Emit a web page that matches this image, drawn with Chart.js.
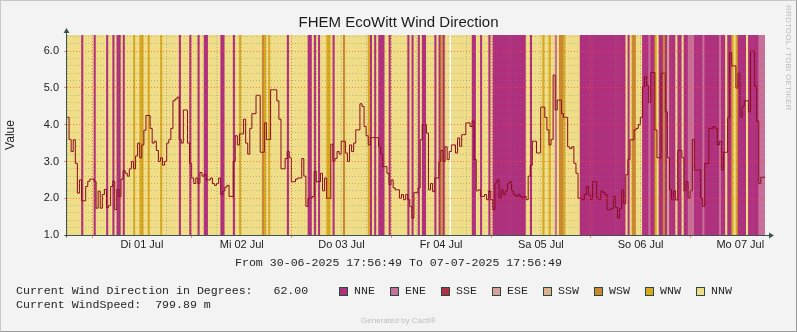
<!DOCTYPE html>
<html>
<head>
<meta charset="utf-8">
<title>FHEM EcoWitt Wind Direction</title>
<script src="https://cdn.jsdelivr.net/npm/chart.js@4.4.1/dist/chart.umd.min.js"></script>
<style>
  html, body { margin: 0; padding: 0; background: #f3f3f3; }
  #stage { position: relative; width: 797px; height: 332px; overflow: hidden; }
  #windChart { position: absolute; left: 0; top: 0; }
  #frame {
    position: absolute; left: 0; top: 0; width: 797px; height: 332px; box-sizing: border-box;
    border: 1px solid #c8c8c8; border-right-color: #9a9a9a; border-bottom-color: #9a9a9a;
    pointer-events: none;
  }
  .mono { position: absolute; font-family: "Liberation Mono", "DejaVu Sans Mono", monospace; font-size: 11.6px;
          line-height: 14px; color: #262626; white-space: pre; }
  .swatch { position: absolute; width: 7px; height: 7px; border: 1px solid #264a3c; }
  #stamp { position: absolute; right: 4px; top: 5px; writing-mode: vertical-rl; font-family: "Liberation Sans", sans-serif;
           font-size: 8px; letter-spacing: 0.2px; color: #bdbdbd; }
  #cacti { position: absolute; left: 0; width: 797px; top: 316px; text-align: center; font-family: "Liberation Sans", sans-serif;
           font-size: 8px; color: #bdbdbd; }
</style>
</head>
<body>
<div id="stage">
  <canvas id="windChart" width="797" height="332"></canvas>
  <div id="footer"></div>
  <div id="stamp">RRDTOOL / TOBI OETIKER</div>
  <div id="cacti">Generated by Cacti®</div>
  <div id="frame"></div>
</div>
<script>
// direction classes and their area colours
const dirNames = ["NNE", "ENE", "SSE", "ESE", "SSW", "WSW", "WNW", "NNW"];
const dirColors = ["#b0307e", "#c8709a", "#b03048", "#d8a098", "#ddb08e", "#cc8830", "#d8a820", "#efdd88"];

const dayLabels = ["Di 01 Jul", "Mi 02 Jul", "Do 03 Jul", "Fr 04 Jul", "Sa 05 Jul", "So 06 Jul", "Mo 07 Jul"];

// 30 minute samples from 30-06-2025 17:56:49, index into dirNames (null = no data)
const windDir = [
  7,7,7,7,7,7,7,0,7,7,7,7,7,0,7,7,7,7,7,0,7,7,0,7,
  0,0,7,0,7,7,7,7,6,7,7,6,6,7,7,6,7,7,7,7,7,6,7,7,
  7,7,7,7,7,7,0,7,7,7,7,0,7,7,7,0,7,7,0,0,7,7,7,7,
  7,7,0,0,7,7,7,7,0,7,7,6,7,7,7,7,7,7,7,7,7,7,5,6,
  7,6,7,7,7,7,7,7,7,7,0,7,7,7,7,7,7,7,7,7,0,0,7,0,
  7,0,7,7,7,6,6,7,0,7,7,7,7,5,7,7,7,7,7,7,7,7,7,7,
  7,6,0,7,0,7,0,0,0,7,7,0,7,7,7,7,7,7,7,7,0,7,0,7,
  7,0,7,0,0,7,7,7,7,0,7,0,6,0,7,7,null,7,7,7,7,7,7,7,
  7,7,7,0,0,7,7,0,7,7,7,0,7,0,0,0,0,0,0,0,0,0,0,0,
  0,0,0,0,0,7,7,0,7,7,7,7,7,6,7,7,6,7,7,1,7,5,5,6,
  7,7,7,7,7,7,7,0,0,0,0,0,0,0,0,0,0,0,0,0,0,0,0,0,
  0,0,0,0,0,7,0,7,5,5,7,7,7,0,0,0,1,0,0,6,7,0,0,5,
  0,3,0,0,0,7,0,0,7,0,0,1,1,1,0,0,0,0,1,0,0,0,0,0,
  0,0,1,0,0,7,0,0,6,7,6,0,0,0,0,7,0,0,0,0,0,1,1,1
];

// wind speed, same 30 minute samples
const windSpeed = [
  4.2, 4.2, 3.6, 3.27, 3.59, 2.95, 2.14, 2.5, 1.93, 1.93, 2.32, 2.46, 2.52, 2.52, 2.46, 1.73, 2.19, 1.73, 2.1, 2.24, 1.75, 1.8, 2.32, 2.46,
  1.69, 2.24, 2.05, 2.52, 2.75, 2.68, 2.6, 2.8, 3.0, 2.8, 3.15, 3.5, 3.1, 3.45, 3.85, 4.25, 4.25, 3.9, 3.5, 3.55, 3.3, 3.0, 3.1, 2.9,
  3.0, 3.5, 3.6, 3.9, 4.65, 4.7, 4.75, 3.6, 3.5, 4.4, 4.4, 3.5, 2.95, 2.55, 2.4, 2.55, 2.4, 2.7, 2.6, 2.65, 2.5, 2.5, 2.55, 2.4,
  2.35, 2.4, 2.55, 2.1, 2.2, 2.3, 2.35, 2.05, 2.05, 3.0, 3.7, 3.45, 3.75, 3.75, 4.15, 3.5, 3.2, 3.9, 4.3, 4.3, 4.8, 4.8, 3.25, 3.25,
  4.05, 3.6, 3.6, 4.95, 4.95, 4.95, 4.65, 4.15, 2.8, 2.8, 3.08, 3.27, 3.1, 2.45, 2.45, 2.52, 2.55, 2.55, 3.08, 2.6, 1.78, 2.0, 2.0, 2.05,
  2.73, 2.45, 2.45, 2.68, 2.2, 2.55, 2.0, 2.0, 3.47, 3.0, 3.08, 3.27, 3.2, 3.55, 3.55, 3.23, 3.0, 3.45, 3.27, 3.5, 3.86, 3.86, 4.57, 4.5,
  3.95, 3.7, 3.45, 3.65, 3.65, 3.65, 3.65, 3.4, 3.2, 2.86, 2.86, 2.68, 2.37, 2.5, 2.28, 2.23, 2.23, 2.0, 2.1, 1.96, 2.1, 1.96, 1.78, 1.46,
  2.15, 2.15, 2.28, 3.59, 4.0, 4.0, 3.77, 2.23, 2.4, 2.18, 2.55, 2.55, 3.0, 3.3, 3.0, 3.4, 3.05, 3.27, 3.45, 3.45, 3.23, 3.64, 3.41, 3.73,
  3.73, 4.05, 4.05, 3.95, 4.1, 3.05, 2.2, 2.23, 2.05, 2.05, 2.1, 1.96, 2.2, 1.96, 1.69, 2.4, 2.5, 2.0, 2.23, 2.1, 2.2, 2.4, 2.45, 2.2,
  2.1, 2.05, 2.1, 2.05, 2.0, 2.05, 1.96, 2.6, 2.9, 3.55, 3.55, 3.23, 3.23, 4.48, 4.48, 4.2, 3.86, 3.45, 3.6, 5.35, 4.4, 4.67, 4.67, 4.3,
  4.2, 4.2, 3.4, 3.35, 3.4, 2.95, 2.68, 2.0, 2.0, 1.96, 2.1, 2.32, 2.1, 1.96, 2.45, 2.45, 2.0, 1.96, 2.2, 2.15, 2.1, 1.69, 1.69, 1.72,
  2.05, 1.75, 1.46, 1.72, 2.23, 1.85, 2.64, 3.05, 3.59, 3.59, 3.86, 3.9, 4.0, 4.2, 5.03, 5.3, 5.06, 4.6, 5.42, 5.42, 3.86, 3.1, 3.1, 5.4,
  5.4, 4.35, 3.1, 2.23, 1.96, 2.2, 1.95, 3.3, 3.3, 3.1, 2.2, 2.45, 2.0, 2.2, 3.6, 2.77, 2.77, 2.77, 2.0, 1.78, 2.95, 2.95, 3.9, 3.9,
  3.95, 3.9, 3.45, 3.55, 2.77, 3.25, 3.25, 4.2, 5.96, 5.6, 5.6, 5.0, 5.4, 4.2, 4.5, 4.65, 4.65, 4.35, 6.0, 6.0, 5.05, 4.1, 2.4, 2.57
];

const STEP_H = 0.5;          // hours per sample
const SPAN_H = 168;          // one week
const FIRST_MIDNIGHT = 6.053; // hours from start to 01 Jul 00:00
const Y_MIN = 1.0, Y_MAX = 6.44;

const MAJOR = "rgba(235, 80, 60, 0.65)";
const MINOR = "rgba(120, 120, 120, 0.4)";
const AXIS = "#3b5552";

// x grid every 6 hours, aligned on local midnight
const xGrid = [];
for (let h = FIRST_MIDNIGHT - 6; h < SPAN_H; h += 6) xGrid.push(h);
const sixHourIndex = v => Math.round((v - FIRST_MIDNIGHT) / 6);

const yGrid = [];
for (let k = 0; Y_MIN + k * 0.2 <= Y_MAX; k++) yGrid.push(+(Y_MIN + k * 0.2).toFixed(1));
const isWhole = v => Math.abs(v - Math.round(v)) < 1e-6;

const bandData = windDir.map((d, i) => ({ x: (i + 0.5) * STEP_H, y: d === null ? null : [Y_MIN, Y_MAX] }));
const speedData = windSpeed.map((v, i) => ({ x: i * STEP_H, y: v }));
speedData.push({ x: SPAN_H, y: windSpeed[windSpeed.length - 1] });

// white plot background, plus the arrowed axes on top
const rrdFrame = {
  id: "rrdFrame",
  beforeDraw(chart) {
    const { ctx, chartArea: a } = chart;
    ctx.save();
    ctx.fillStyle = "#ffffff";
    ctx.fillRect(a.left, a.top, a.right - a.left, a.bottom - a.top);
    ctx.restore();
  },
  afterDraw(chart) {
    const { ctx, chartArea: a } = chart;
    const x0 = Math.round(a.left) - 0.5, y0 = Math.round(a.bottom) + 0.5;
    ctx.save();
    ctx.strokeStyle = AXIS;
    ctx.fillStyle = AXIS;
    ctx.lineWidth = 1;
    ctx.beginPath();
    ctx.moveTo(x0, y0 + 2); ctx.lineTo(x0, a.top - 3);
    ctx.moveTo(x0 - 2, y0); ctx.lineTo(a.right + 6, y0);
    ctx.stroke();
    ctx.beginPath();
    ctx.moveTo(x0, a.top - 7); ctx.lineTo(x0 - 3, a.top - 2); ctx.lineTo(x0 + 3, a.top - 2); ctx.closePath();
    ctx.moveTo(a.right + 9, y0); ctx.lineTo(a.right + 4, y0 - 3); ctx.lineTo(a.right + 4, y0 + 3); ctx.closePath();
    ctx.fill();
    ctx.restore();
  }
};

new Chart(document.getElementById("windChart").getContext("2d"), {
  type: "bar",
  data: {
    datasets: [
      {
        type: "line",
        label: "WindSpeed",
        data: speedData,
        stepped: "after",
        borderColor: "#8c0a1e",
        borderWidth: 1,
        pointRadius: 0,
        fill: false,
        order: 0
      },
      {
        label: "Wind Direction",
        data: bandData,
        backgroundColor: ctx => dirColors[windDir[ctx.dataIndex]] || "rgba(0,0,0,0)",
        borderWidth: 0,
        barPercentage: 1,
        categoryPercentage: 1,
        order: 1
      }
    ]
  },
  options: {
    responsive: false,
    devicePixelRatio: 1,
    animation: false,
    events: [],
    layout: { padding: 0 },
    plugins: {
      legend: { display: false },
      tooltip: { enabled: false },
      title: {
        display: true,
        text: "FHEM EcoWitt Wind Direction",
        color: "#1c1c1c",
        font: { family: "Liberation Sans", size: 15, weight: "normal" },
        padding: { top: 14, bottom: 3 }
      }
    },
    scales: {
      x: {
        type: "linear",
        min: 0,
        max: SPAN_H,
        offset: false,
        afterBuildTicks: s => { s.ticks = xGrid.map(v => ({ value: v })); },
        afterFit: s => { s.height = 97; },
        ticks: {
          autoSkip: false,
          maxRotation: 0,
          padding: 0,
          color: "#1c1c1c",
          font: { family: "Liberation Sans", size: 11 },
          callback: v => {
            const k = sixHourIndex(v);
            return k >= 0 && k % 4 === 2 ? dayLabels[(k - 2) / 4] : "";
          }
        },
        grid: {
          offset: false,
          z: 1,
          color: c => (c.tick && sixHourIndex(c.tick.value) % 4 === 0 ? MAJOR : MINOR),
          tickColor: c => (c.tick && sixHourIndex(c.tick.value) % 4 === 0 ? MAJOR : "rgba(0,0,0,0)"),
          tickLength: 3
        },
        border: { display: false, dash: [1, 2] }
      },
      y: {
        min: Y_MIN,
        max: Y_MAX,
        afterBuildTicks: s => { s.ticks = yGrid.map(v => ({ value: v })); },
        afterFit: s => { s.width = 67; },
        ticks: {
          autoSkip: false,
          padding: 5,
          color: "#1c1c1c",
          font: { family: "Liberation Sans", size: 11 },
          callback: v => (isWhole(v) ? v.toFixed(1) : "")
        },
        grid: {
          z: 1,
          color: c => (c.tick && isWhole(c.tick.value) ? MAJOR : MINOR),
          tickColor: c => (c.tick && isWhole(c.tick.value) ? MAJOR : "rgba(0,0,0,0)"),
          tickLength: 3
        },
        border: { display: false, dash: [1, 2] },
        title: {
          display: true,
          text: "Value",
          color: "#1c1c1c",
          font: { family: "Liberation Sans", size: 12 },
          padding: { top: 3, bottom: 0 }
        }
      },
      spacer: {
        position: "right",
        display: true,
        ticks: { display: false },
        grid: { display: false },
        border: { display: false },
        afterFit: s => { s.width = 32; }
      }
    }
  },
  plugins: [rrdFrame]
});

// text block under the graph
const footer = document.getElementById("footer");
function addText(text, left, top, center) {
  const el = document.createElement("div");
  el.className = "mono";
  el.textContent = text;
  el.style.top = top + "px";
  if (center) { el.style.left = "0"; el.style.width = "797px"; el.style.textAlign = "center"; }
  else el.style.left = left + "px";
  footer.appendChild(el);
}
addText("From 30-06-2025 17:56:49 To 07-07-2025 17:56:49", 0, 256, true);
addText("Current Wind Direction in Degrees:   62.00", 16, 284);
addText("Current WindSpeed:  799.89 m", 16, 298);
dirNames.forEach((name, i) => {
  const box = document.createElement("div");
  box.className = "swatch";
  box.style.left = (339 + 51 * i) + "px";
  box.style.top = "287px";
  box.style.background = dirColors[i];
  footer.appendChild(box);
  addText(name, 354 + 51 * i, 284);
});
</script>
</body>
</html>
